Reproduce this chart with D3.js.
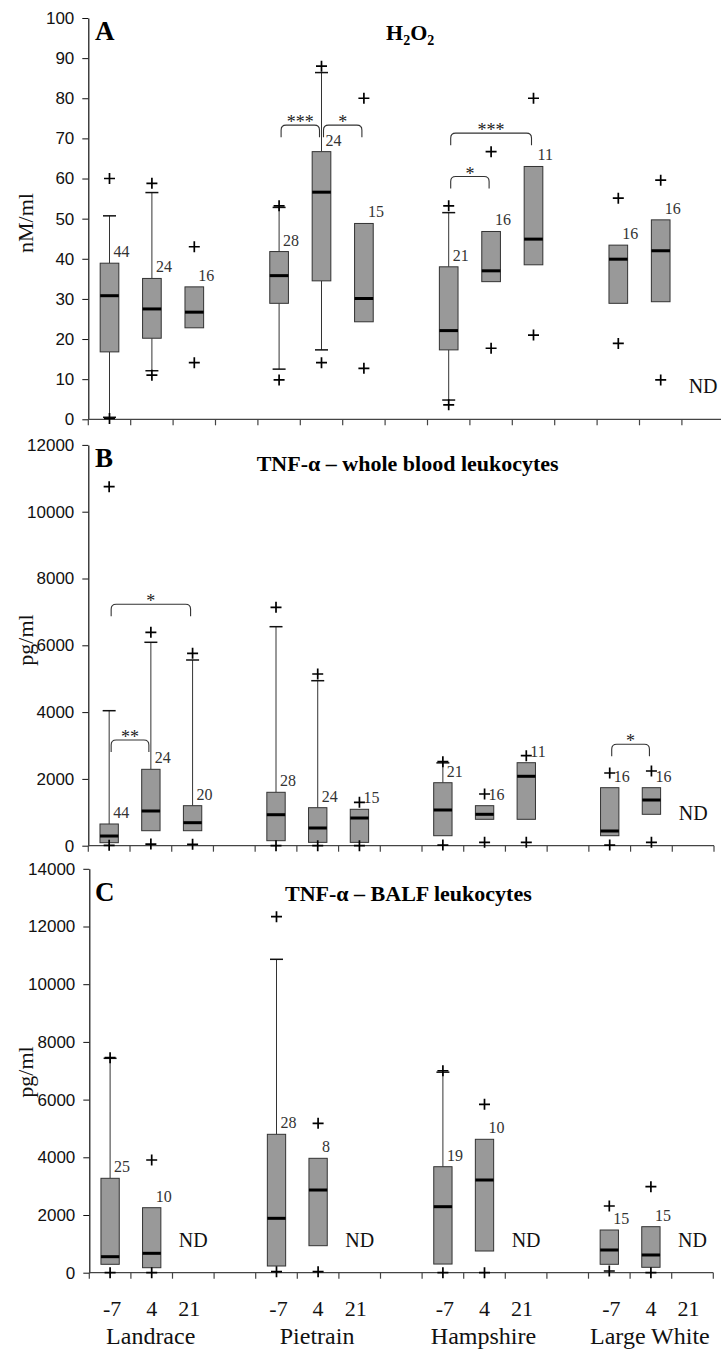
<!DOCTYPE html>
<html><head><meta charset="utf-8">
<script src="https://cdn.jsdelivr.net/npm/d3@7"></script>
<style>body{margin:0;background:#fff;} svg{display:block}</style>
</head><body><svg id="chart" width="721" height="1351"></svg>
<script>
// ---------- categories ----------
const breeds = ["Landrace", "Pietrain", "Hampshire", "Large White"];
const days = ["-7", "4", "21"];

// order of boxes: L-7, L4, L21, P-7, P4, P21, H-7, H4, H21, LW-7, LW4, LW21
// ---------- Panel A: H2O2 (nM/ml) ----------
const ticksA = [0, 10, 20, 30, 40, 50, 60, 70, 80, 90, 100];
const q1A  = [16.8, 20.2, 22.8, 28.9, 34.5, 24.3, 17.3, 34.3, 38.5, 28.9, 29.3, null];
const medA = [30.8, 27.5, 26.7, 35.8, 56.6, 30.1, 22.1, 37.0, 44.9, 39.9, 42.0, null];
const q3A  = [38.9, 35.1, 33.0, 41.8, 66.7, 48.8, 38.0, 46.8, 63.0, 43.4, 49.7, null];
const loA  = [0.5, 12.1, 22.8, 12.5, 17.3, 24.3, 4.8, 34.3, 38.5, 28.9, 29.3, null];
const hiA  = [50.7, 56.5, 33.0, 52.8, 86.4, 48.8, 51.5, 46.8, 63.0, 43.4, 49.7, null];
const outA = [[60.0, 0.2], [58.8, 11.0], [43.0, 14.1], [53.2, 9.8], [88.0, 14.1], [80.0, 12.7],
              [53.2, 3.6], [66.7, 17.7], [80.0, 21.0], [55.1, 18.9], [59.6, 9.8], []];
const nA   = [44, 24, 16, 28, 24, 15, 21, 16, 11, 16, 16, null];
const sigA = [[3, 4, 73.3, "***"], [4, 5, 73.3, "*"], [6, 8, 71.3, "***"], [6, 7, 60.5, "*"]];

// ---------- Panel B: TNF-α whole blood (pg/ml) ----------
const ticksB = [0, 2000, 4000, 6000, 8000, 10000, 12000];
const q1B  = [90, 449, 449, 150, 100, 100, 299, 790, 790, 299, 940, null];
const medB = [290, 1039, 689, 928, 530, 829, 1069, 940, 2078, 440, 1368, null];
const q3B  = [650, 2287, 1198, 1599, 1138, 1090, 1886, 1198, 2485, 1737, 1737, null];
const loB  = [90, 449, 449, 150, 100, 100, 299, 790, 790, 299, 940, null];
const hiB  = [4042, 6090, 5560, 6557, 4940, 1090, 2480, 1198, 2485, 1737, 1737, null];
const outB = [[10749, 10], [6389, 50], [5760, 40], [7138, 0], [5141, 0], [1300, 0],
              [2515, 20], [1548, 100], [2695, 100], [2177, 20], [2237, 100], []];
const nB   = [44, 24, 20, 28, 24, 15, 21, 16, 11, 16, 16, null];
const sigB = [[0, 2, 7228, "*"], [0, 1, 3165, "**"], [9, 10, 3036, "*"]];

// ---------- Panel C: TNF-α BALF (pg/ml) ----------
const ticksC = [0, 2000, 4000, 6000, 8000, 10000, 12000, 14000];
const q1C  = [291, 173, null, 232, 936, null, 300, 752, null, 291, 187, null];
const medC = [555, 672, null, 1885, 2866, null, 2288, 3213, null, 787, 614, null];
const q3C  = [3272, 2253, null, 4797, 3965, null, 3674, 4624, null, 1480, 1595, null];
const loC  = [291, 173, null, 232, 936, null, 300, 752, null, 291, 187, null];
const hiC  = [7431, 2253, null, 10863, 3965, null, 6950, 4624, null, 1480, 1595, null];
const outC = [[7452, 0], [3906, 0], [], [12340, 35], [5178, 35], [],
              [7000, 0], [5837, 0], [], [2312, 59], [2981, 0], []];
const nC   = [25, 10, null, 28, 8, null, 19, 10, null, 15, 15, null];
const sigC = [];

// ---------- layout ----------
const svg = d3.select("#chart");
const slots = [];
breeds.forEach((b, i) => {
  days.forEach(d => slots.push(b + "|" + d));
  if (i < breeds.length - 1) slots.push("gap" + i);
});
const dataSlots = slots.filter(s => !s.startsWith("gap"));

const serif = "'Liberation Serif','Times New Roman',Times,serif";
const sans = "'Liberation Sans',Arial,Helvetica,sans-serif";

const panels = [
  { letter: "A", ylab: "nM/ml", ticks: ticksA, dom: [0, 100], yr: [419.3, 18.0], xr: [88.3, 724.3],
    q1: q1A, med: medA, q3: q3A, lo: loA, hi: hiA, out: outA, n: nA, sig: sigA,
    letterY: 40, labY: 223, titleX: 386, titleY: 40, title: "H2O2" },
  { letter: "B", ylab: "pg/ml", ticks: ticksB, dom: [0, 12000], yr: [845.7, 444.9], xr: [88.3, 714],
    q1: q1B, med: medB, q3: q3B, lo: loB, hi: hiB, out: outB, n: nB, sig: sigB,
    letterY: 467, labY: 640, titleX: 256.7, titleY: 471, title: "TNF-α – whole blood leukocytes" },
  { letter: "C", ylab: "pg/ml", ticks: ticksC, dom: [0, 14000], yr: [1272.7, 868.8], xr: [89.3, 713.3],
    q1: q1C, med: medC, q3: q3C, lo: loC, hi: hiC, out: outC, n: nC, sig: sigC,
    letterY: 901, labY: 1072, titleX: 285, titleY: 900.7, title: "TNF-α – BALF leukocytes" }
];

let lastX = null;
panels.forEach(p => {
  const g = svg.append("g");
  const x = d3.scaleBand().domain(slots).range(p.xr).padding(0);
  const y = d3.scaleLinear().domain(p.dom).range(p.yr);
  const bw = x.bandwidth() * 0.44;
  const cx = k => x(dataSlots[k]) + x.bandwidth() / 2;
  lastX = x;

  // y axis
  const ya = g.append("g").attr("transform", `translate(${p.xr[0]},0)`)
    .call(d3.axisLeft(y).tickValues(p.ticks).tickSize(6).tickSizeOuter(0).tickPadding(8).tickFormat(d3.format("d")));
  ya.select(".domain").attr("stroke", "#111").attr("stroke-width", 1.2);
  ya.selectAll(".tick line").attr("stroke", "#111");
  ya.selectAll(".tick text").attr("font-family", sans).attr("font-size", 17).attr("fill", "#111");

  // x axis line + boundary ticks
  const y0 = y(0);
  g.append("line").attr("x1", p.xr[0]).attr("x2", p.xr[1]).attr("y1", y0).attr("y2", y0)
    .attr("stroke", "#444").attr("stroke-width", 1.2);
  const bounds = slots.map(s => x(s)).concat([p.xr[1]]);
  g.selectAll(".xt").data(bounds).join("line")
    .attr("x1", d => d).attr("x2", d => d).attr("y1", y0).attr("y2", y0 + 6)
    .attr("stroke", "#444").attr("stroke-width", 1.2);

  // y label
  g.append("text").attr("transform", `translate(32.5,${p.labY}) rotate(-90)`)
    .attr("text-anchor", "middle").attr("font-family", serif).attr("font-size", 22).attr("fill", "#111")
    .text(p.ylab);

  // panel letter
  g.append("text").attr("x", 95).attr("y", p.letterY).attr("font-family", serif)
    .attr("font-weight", "bold").attr("font-size", 27).attr("fill", "#000").text(p.letter);

  // title
  const t = g.append("text").attr("x", p.titleX).attr("y", p.titleY).attr("font-family", serif)
    .attr("font-weight", "bold").attr("font-size", 22).attr("fill", "#000");
  if (p.title === "H2O2") {
    t.append("tspan").text("H");
    t.append("tspan").attr("font-size", 14).attr("dy", 5).text("2");
    t.append("tspan").attr("dy", -5).text("O");
    t.append("tspan").attr("font-size", 14).attr("dy", 5).text("2");
  } else {
    t.text(p.title);
  }

  // boxes
  dataSlots.forEach((s, k) => {
    const c = cx(k);
    if (p.q1[k] == null) {
      g.append("text").attr("x", c).attr("y", y0 - 26).attr("text-anchor", "middle")
        .attr("font-family", serif).attr("font-size", 20).attr("fill", "#111").text("ND");
      return;
    }
    const bx = g.append("g");
    if (p.hi[k] > p.q3[k]) {
      bx.append("line").attr("x1", c).attr("x2", c).attr("y1", y(p.q3[k])).attr("y2", y(p.hi[k]))
        .attr("stroke", "#333").attr("stroke-width", 1);
      bx.append("line").attr("x1", c - 6.5).attr("x2", c + 6.5).attr("y1", y(p.hi[k])).attr("y2", y(p.hi[k]))
        .attr("stroke", "#111").attr("stroke-width", 1.5);
    }
    if (p.lo[k] < p.q1[k]) {
      bx.append("line").attr("x1", c).attr("x2", c).attr("y1", y(p.q1[k])).attr("y2", y(p.lo[k]))
        .attr("stroke", "#333").attr("stroke-width", 1);
      bx.append("line").attr("x1", c - 6.5).attr("x2", c + 6.5).attr("y1", y(p.lo[k])).attr("y2", y(p.lo[k]))
        .attr("stroke", "#111").attr("stroke-width", 1.5);
    }
    bx.append("rect").attr("x", c - bw / 2).attr("width", bw)
      .attr("y", y(p.q3[k])).attr("height", y(p.q1[k]) - y(p.q3[k]))
      .attr("fill", "#999999").attr("stroke", "#333").attr("stroke-width", 1);
    bx.append("line").attr("x1", c - bw / 2).attr("x2", c + bw / 2)
      .attr("y1", y(p.med[k])).attr("y2", y(p.med[k])).attr("stroke", "#000").attr("stroke-width", 3);
    p.out[k].forEach(v => {
      bx.append("path").attr("transform", `translate(${c},${y(v)})`)
        .attr("d", "M-5.5,0H5.5M0,-5.5V5.5").attr("stroke", "#000").attr("stroke-width", 1.7).attr("fill", "none");
    });
    bx.append("text").attr("x", c + 4).attr("y", y(p.q3[k]) - 6)
      .attr("font-family", serif).attr("font-size", 16).attr("fill", "#333").text(p.n[k]);
  });

  // significance brackets
  p.sig.forEach(([a, b, v, lab]) => {
    const x1 = cx(a) + 2, x2 = cx(b) - 2, yt = y(v), yb = yt + 12, r = 5;
    g.append("path")
      .attr("d", `M${x1},${yb}L${x1},${yt + r}Q${x1},${yt} ${x1 + r},${yt}L${x2 - r},${yt}Q${x2},${yt} ${x2},${yt + r}L${x2},${yb}`)
      .attr("fill", "none").attr("stroke", "#333").attr("stroke-width", 1.1);
    g.append("text").attr("x", (x1 + x2) / 2).attr("y", yt + 3).attr("text-anchor", "middle")
      .attr("font-family", serif).attr("font-size", 18).attr("fill", "#222").text(lab);
  });
});

// bottom category labels (from last panel's scale)
const dayOffsets = [2, 0, -4];
const bl = svg.append("g");
breeds.forEach((b, i) => {
  days.forEach((d, j) => {
    const key = b + "|" + d;
    bl.append("text").attr("x", lastX(key) + lastX.bandwidth() / 2 + dayOffsets[j]).attr("y", 1316)
      .attr("text-anchor", "middle").attr("font-family", serif).attr("font-size", 22).attr("fill", "#111").text(d);
  });
  const mid = b + "|" + days[1];
  bl.append("text").attr("x", lastX(mid) + lastX.bandwidth() / 2 - 1).attr("y", 1344)
    .attr("text-anchor", "middle").attr("font-family", serif).attr("font-size", 24).attr("fill", "#111").text(b);
});
</script>
</body></html>
